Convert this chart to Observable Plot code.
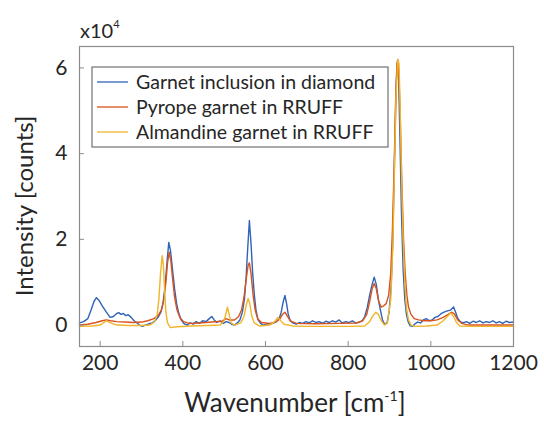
<!DOCTYPE html>
<html><head><meta charset="utf-8">
<script src="https://cdn.jsdelivr.net/npm/d3@7"></script>
<script src="https://cdn.jsdelivr.net/npm/@observablehq/plot@0.6"></script>
<style>
body{margin:0;background:#fff;}
#chart{position:relative;width:544px;height:421px;}
</style>
</head><body><div id="chart"></div>
<script>
const seriesNames = ["Garnet inclusion in diamond", "Pyrope garnet in RRUFF", "Almandine garnet in RRUFF"];
const seriesColors = ["#2f64b8", "#d9531e", "#f0b52a"];

// Garnet inclusion in diamond (intensity in units of 10^4 counts)
const blueWn = [150,160,170,178,185,191,197,205,215,224,232,240,245,250,256,262,268,275,282,288,295,302,310,318,326,333,340,347,352,357,362,366,370,375,380,385,390,396,402,410,418,425,432,440,448,456,464,470,476,482,490,498,505,512,518,525,532,538,544,549,553,557,561,565,569,573,577,582,588,595,603,612,620,627,633,638,643,647,651,655,660,666,674,682,690,698,706,714,722,730,738,746,754,762,770,778,786,794,802,810,818,826,834,840,846,852,858,863,868,873,878,883,888,894,899,904,908,912,916,919,922,925,929,933,937,941,945,950,956,962,968,975,982,989,996,1003,1010,1017,1024,1032,1040,1048,1055,1060,1065,1071,1078,1086,1094,1102,1110,1118,1126,1134,1142,1150,1158,1166,1174,1182,1190,1200];
const blueVal = [0.05,0.08,0.15,0.35,0.55,0.64,0.58,0.45,0.3,0.18,0.2,0.27,0.29,0.25,0.27,0.22,0.24,0.18,0.1,0.06,0.0,-0.03,0.0,0.03,0.05,0.1,0.18,0.3,0.5,0.9,1.5,1.93,1.75,1.3,0.85,0.5,0.28,0.12,0.04,0.0,0.05,0.02,0.08,0.04,0.1,0.08,0.15,0.2,0.12,0.06,0.1,0.04,0.08,0.06,0.02,0.0,0.05,0.12,0.3,0.6,1.1,1.8,2.44,1.9,1.2,0.7,0.35,0.12,0.04,0.0,0.03,0.02,0.05,0.08,0.15,0.3,0.55,0.69,0.5,0.25,0.1,0.05,0.02,0.06,0.04,0.08,0.05,0.1,0.06,0.08,0.04,0.09,0.06,0.1,0.07,0.12,0.05,0.08,0.06,0.1,0.05,0.06,0.1,0.2,0.4,0.7,0.95,1.12,0.95,0.6,0.35,0.12,0.02,0.05,0.3,0.9,2.0,3.8,5.6,6.1,5.8,4.5,2.6,1.3,0.6,0.25,0.08,-0.02,-0.03,0.03,0.07,0.05,0.12,0.15,0.1,0.12,0.18,0.2,0.26,0.3,0.33,0.35,0.42,0.3,0.16,0.08,0.05,0.08,0.04,0.09,0.06,0.1,0.05,0.08,0.06,0.1,0.05,0.08,0.04,0.09,0.06,0.07];

// Pyrope garnet in RRUFF
const orangeWn = [150,170,190,205,215,225,240,260,280,300,315,330,340,348,354,359,363,367,371,375,380,386,393,402,415,440,470,495,505,512,525,535,542,548,553,558,561,565,570,575,581,590,610,625,635,642,647,652,660,675,720,780,820,835,845,852,858,863,868,874,880,886,892,898,903,907,911,915,918,920,923,926,930,934,938,942,946,952,960,970,985,1000,1015,1030,1042,1050,1057,1065,1075,1090,1120,1160,1200];
const orangeVal = [0.0,0.02,0.06,0.1,0.12,0.1,0.08,0.07,0.06,0.07,0.1,0.15,0.22,0.35,0.6,1.0,1.45,1.7,1.5,1.1,0.65,0.35,0.17,0.08,0.04,0.05,0.07,0.09,0.15,0.12,0.12,0.2,0.35,0.65,1.05,1.4,1.45,1.2,0.7,0.35,0.15,0.06,0.04,0.07,0.15,0.26,0.3,0.22,0.1,0.04,0.03,0.04,0.05,0.1,0.25,0.55,0.85,0.97,0.85,0.55,0.42,0.45,0.5,0.7,1.2,2.2,3.6,5.3,6.1,6.2,5.8,4.8,3.3,2.0,1.2,0.7,0.42,0.25,0.15,0.12,0.1,0.1,0.12,0.18,0.25,0.3,0.26,0.12,0.04,0.0,0.0,0.0,0.0];

// Almandine garnet in RRUFF
const yellowWn = [150,180,200,215,225,240,270,300,320,332,338,342,346,350,353,356,359,363,370,385,420,460,490,500,505,508,512,517,525,540,548,553,558,562,567,573,585,610,622,630,637,645,665,700,800,840,852,860,867,873,880,888,895,903,908,912,916,920,923,926,929,933,937,941,946,952,962,990,1015,1030,1040,1048,1055,1062,1070,1100,1200];
const yellowVal = [-0.03,-0.02,0.0,0.1,0.05,0.0,-0.01,-0.01,0.0,0.08,0.25,0.6,1.2,1.62,1.4,0.8,0.3,0.05,-0.06,-0.04,-0.02,-0.01,0.0,0.1,0.3,0.42,0.25,0.05,0.0,0.05,0.2,0.45,0.62,0.5,0.2,0.05,-0.02,0.0,0.08,0.18,0.1,0.02,-0.02,-0.03,-0.03,-0.02,0.08,0.22,0.3,0.25,0.1,0.0,0.05,0.6,1.8,3.6,5.4,6.2,6.1,5.0,3.5,2.0,1.0,0.4,0.12,0.0,-0.03,-0.02,0.0,0.1,0.2,0.28,0.2,0.06,-0.02,-0.03,-0.03];

const xTicks = [200, 400, 600, 800, 1000, 1200];
const yTicks = [0, 2, 4, 6];
const xDomain = [150, 1200];
const yDomain = [-0.5, 6.5];

const rows = [];
[[blueWn, blueVal], [orangeWn, orangeVal], [yellowWn, yellowVal]].forEach(([wn, val], i) => {
  wn.forEach((w, j) => rows.push({series: seriesNames[i], wn: w, v: val[j]}));
});

const W = 544, H = 421, mL = 79, mR = 31, mT = 46, mB = 75;
const plotW = W - mL - mR, plotH = H - mT - mB;
const frameColor = "#8c8c8c";
const font = "Lato, 'Open Sans', sans-serif";

const chart = Plot.plot({
  width: W, height: H,
  marginLeft: mL, marginRight: mR, marginTop: mT, marginBottom: mB,
  style: {fontFamily: font, fontSize: "21px", color: "#262626", background: "#fff"},
  x: {domain: xDomain},
  y: {domain: yDomain},
  color: {domain: seriesNames, range: seriesColors},
  marks: [
    Plot.lineY(rows, {x: "wn", y: "v", z: "series", stroke: "series", strokeWidth: 1.4}),
    Plot.frame({stroke: frameColor, strokeWidth: 1.2}),
    Plot.tickX(xTicks, {x: d => d, stroke: frameColor, insetTop: plotH - 5}),
    Plot.tickY(yTicks, {y: d => d, stroke: frameColor, insetRight: plotW - 5}),
    Plot.axisX(xTicks, {tickSize: 0, tickPadding: 9, label: null, fontSize: 21, tickFormat: d => String(d)}),
    Plot.axisY(yTicks, {tickSize: 0, tickPadding: 12, label: null, fontSize: 21, tickFormat: d => String(d)})
  ]
});
document.getElementById("chart").appendChild(chart);

const svg = d3.select(chart);
// axis titles
const xl = svg.append("text").attr("x", 295).attr("y", 412).attr("text-anchor", "middle")
  .attr("font-family", font).attr("font-size", 26).attr("fill", "#262626");
xl.append("tspan").text("Wavenumber [cm");
xl.append("tspan").text("-1").attr("font-size", 14).attr("dy", -11);
xl.append("tspan").text("]").attr("dy", 11);

svg.append("text").attr("transform", `translate(33,206) rotate(-90)`)
  .attr("text-anchor", "middle").attr("font-family", font).attr("font-size", 24).attr("fill", "#262626")
  .text("Intensity [counts]");

const ex = svg.append("text").attr("x", 80).attr("y", 38).attr("text-anchor", "start").attr("font-family", font)
  .attr("font-size", 20).attr("fill", "#262626");
ex.append("tspan").text("x10");
ex.append("tspan").text("4").attr("font-size", 11).attr("dy", -10);

// legend
const lg = svg.append("g");
lg.append("rect").attr("x", 92).attr("y", 67).attr("width", 296).attr("height", 80)
  .attr("fill", "#fff").attr("stroke", "#555").attr("stroke-width", 1);
seriesNames.forEach((name, i) => {
  const cy = 82 + i * 25;
  lg.append("line").attr("x1", 97).attr("x2", 128).attr("y1", cy).attr("y2", cy)
    .attr("stroke", seriesColors[i]).attr("stroke-width", 1.3);
  lg.append("text").attr("x", 136).attr("y", cy).attr("dy", "0.35em").attr("text-anchor", "start")
    .attr("font-family", font).attr("font-size", 19.5).attr("fill", "#262626").text(name);
});
</script>
</body></html>
